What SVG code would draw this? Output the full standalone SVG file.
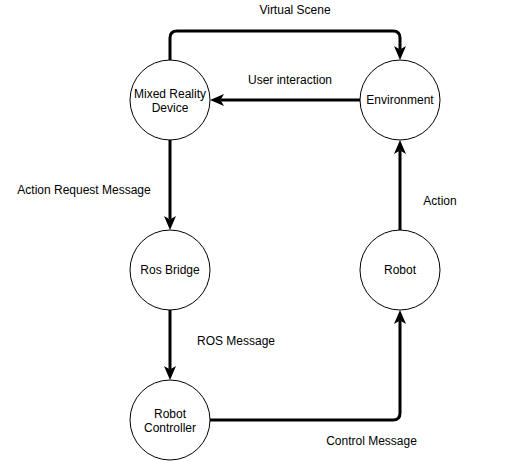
<svg xmlns="http://www.w3.org/2000/svg" width="516" height="461" viewBox="0 0 516 461">
<style>
  .node { fill: #ffffff; stroke: #000000; stroke-width: 1; }
  .edge { fill: none; stroke: #000000; stroke-width: 3; marker-end: url(#arrow); }
  text { font-family: "Liberation Sans", Arial, Helvetica, sans-serif; font-size: 12px; fill: #000000; }
  .c { text-anchor: middle; }
</style>
<defs>
  <marker id="arrow" markerUnits="userSpaceOnUse" markerWidth="16" markerHeight="14" refX="3.5" refY="6" orient="auto">
    <path d="M0,0 L14,6 L0,12 L3.5,6 Z" fill="#000000"/>
  </marker>
</defs>
<rect x="0" y="0" width="516" height="461" fill="#ffffff"/>
<g id="connectors">
  <path class="edge" d="M170,60 V38 Q170,31 177,31 H393 Q400,31 400,38 V49.5"/>
  <path class="edge" d="M360,100 H220.5"/>
  <path class="edge" d="M170,140 V219.5"/>
  <path class="edge" d="M400,230 V150.5"/>
  <path class="edge" d="M170,310 V369.5"/>
  <path class="edge" d="M210,420 H393 Q400,420 400,413 V320.5"/>
  <text class="c" x="295" y="14">Virtual Scene</text>
  <text class="c" x="290" y="84">User interaction</text>
  <text class="c" x="84" y="194">Action Request Message</text>
  <text class="c" x="440" y="205">Action</text>
  <text class="c" x="236" y="345">ROS Message</text>
  <text class="c" x="371.5" y="445">Control Message</text>
</g>
<g id="mixed-reality-device">
  <circle class="node" cx="170" cy="100" r="40"/>
  <text class="c" x="170" y="98">Mixed Reality</text>
  <text class="c" x="170" y="112">Device</text>
</g>
<g id="environment">
  <circle class="node" cx="400" cy="100" r="40"/>
  <text class="c" x="400" y="104">Environment</text>
</g>
<g id="ros-bridge">
  <circle class="node" cx="170" cy="270" r="40"/>
  <text class="c" x="170" y="274">Ros Bridge</text>
</g>
<g id="robot">
  <circle class="node" cx="400" cy="270" r="40"/>
  <text class="c" x="400" y="274">Robot</text>
</g>
<g id="robot-controller">
  <circle class="node" cx="170" cy="420" r="40"/>
  <text class="c" x="170" y="418">Robot</text>
  <text class="c" x="170" y="432">Controller</text>
</g>
</svg>
